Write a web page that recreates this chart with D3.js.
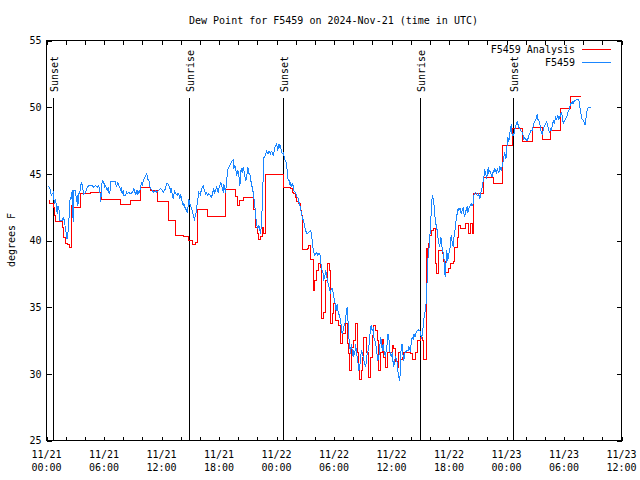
<!DOCTYPE html>
<html><head><meta charset="utf-8">
<script src="https://cdn.jsdelivr.net/npm/d3@7"></script>
<style>
html,body{margin:0;padding:0;background:#fff;}
svg{display:block;}
text{font-family:"DejaVu Sans Mono","Liberation Mono",monospace;font-size:10px;fill:#000;}
</style></head><body>
<svg id="chart" width="640" height="480"></svg>
<script>
const chartTitle = "Dew Point for F5459 on 2024-Nov-21 (time in UTC)";
const yAxisLabel = "degrees F";
const seriesNames = ["F5459 Analysis", "F5459"];
const seriesColors = ["#ff0000", "#1a86ff"];
const yTickValues = [25, 30, 35, 40, 45, 50, 55];
const sunEventLabels = ["Sunset", "Sunrise", "Sunset", "Sunrise", "Sunset"];
const sunEventHours = [0.76, 14.95, 24.76, 39.06, 48.76];

// hours after 2024-11-21 00:00 UTC
const analysisHours = [
0.21,0.35,0.70,0.83,0.90,0.94,1.70,1.81,1.95,2.16,
2.44,2.61,2.85,3.55,4.6,5.74,7.72,8.77,9.81,10.85,
11.55,12.76,13.46,14.33,14.85,15.2,15.55,15.8,16.77,18.68,
19.72,19.9,20.17,20.59,21.63,21.81,21.98,22.16,22.33,22.51,
22.61,22.85,24.70,25.46,25.64,25.81,25.98,26.09,26.33,26.51,
26.61,26.68,27.20,27.37,27.55,27.89,28.00,28.17,28.42,28.59,
28.73,28.94,29.11,29.29,29.57,29.64,29.81,29.98,30.16,30.50,
30.68,30.85,31.20,31.38,31.55,31.65,31.80,32.07,32.24,32.42,
32.59,32.69,32.84,32.94,33.11,33.39,33.63,33.81,33.98,34.16,
34.33,34.51,34.68,34.85,35.03,35.20,35.38,35.55,36.07,36.24,
36.42,36.60,36.77,36.94,37.12,37.29,37.98,38.16,38.51,38.68,
39.03,39.20,39.37,39.65,39.72,39.79,39.89,40.00,40.14,40.42,
40.59,40.70,40.94,41.30,41.46,41.60,41.90,42.20,42.50,42.61,
42.86,42.96,43.20,43.72,44.07,44.24,44.42,44.59,45.64,46.61,
47.55,48.59,49.64,50.68,51.73,52.59,53.64,54.72,55.75];
const analysisDew = [
43.0,42.75,42.5,41.9,41.5,41.4,41.0,40.25,39.8,39.7,
39.5,42.6,42.5,43.55,43.6,43.1,42.7,43.0,44.0,43.75,
42.9,41.5,40.4,40.3,40.0,39.7,39.85,42.3,41.8,43.8,
43.3,42.6,43.0,43.25,42.3,41.0,40.5,40.1,40.3,41.0,
40.5,44.95,44.0,43.9,43.6,43.5,43.25,42.9,42.75,42.25,
41.9,39.3,39.4,39.6,38.55,36.25,37.0,37.75,38.25,38.0,
34.15,34.6,37.0,38.25,37.75,33.75,34.5,35.25,34.0,33.6,
32.25,33.0,33.75,32.25,31.5,30.25,32.0,32.5,33.75,31.6,
30.25,29.6,30.25,31.25,32.7,31.6,29.7,31.25,32.9,33.6,
33.25,32.5,30.25,31.6,32.6,31.25,30.5,31.6,32.1,31.9,
30.9,30.5,31.6,31.1,31.25,31.6,31.5,31.1,31.6,32.5,
32.7,32.5,31.1,39.4,37.4,39.0,39.75,40.4,40.75,40.9,
38.25,37.5,39.25,39.0,38.4,37.6,37.9,38.25,38.4,39.5,
40.25,41.1,40.9,41.25,40.5,41.25,40.5,43.55,44.75,44.3,
47.1,48.4,47.4,48.5,47.6,48.25,49.9,50.8,50.8];

const obsHours = [
0.21,0.35,0.42,0.52,0.59,0.70,0.77,0.83,0.94,1.04,
1.11,1.18,1.29,1.39,1.63,1.74,1.81,1.88,1.95,2.02,
2.09,2.16,2.23,2.33,2.37,2.44,2.50,2.57,2.68,2.78,
2.85,3.03,3.13,3.20,3.27,3.37,3.48,3.55,3.65,3.76,
3.83,3.90,4.07,4.25,4.42,4.59,4.77,4.94,5.11,5.29,
5.46,5.57,5.64,5.74,5.81,5.91,5.98,6.09,6.16,6.26,
6.33,6.44,6.51,6.61,6.68,7.20,7.30,7.44,7.55,7.65,
7.72,7.79,7.90,8.00,8.07,8.24,8.35,8.42,8.59,8.77,
8.94,9.05,9.11,9.21,9.29,9.39,9.46,9.53,9.63,9.74,
9.81,9.91,10.02,10.09,10.16,10.26,10.43,10.50,10.57,10.68,
10.78,10.85,11.03,11.20,11.37,11.48,11.72,11.90,12.07,12.18,
12.42,12.52,12.66,12.76,12.87,12.94,13.04,13.11,13.22,13.28,
13.36,13.46,13.64,13.74,13.81,13.91,13.98,14.16,14.26,14.33,
14.43,14.50,14.61,14.68,14.79,14.85,14.95,15.03,15.20,15.37,
15.44,15.55,15.65,15.72,15.79,15.89,16.00,16.07,16.14,16.25,
16.35,16.42,16.49,16.59,16.70,16.77,16.94,17.11,17.19,17.29,
17.40,17.46,17.53,17.64,17.74,17.81,17.92,17.98,18.09,18.16,
18.23,18.33,18.44,18.50,18.57,18.68,18.78,18.86,18.92,19.03,
19.20,19.38,19.48,19.55,19.62,19.72,19.83,19.90,19.96,20.07,
20.17,20.24,20.31,20.42,20.53,20.59,20.66,20.77,20.87,20.94,
21.01,21.11,21.22,21.29,21.39,21.46,21.57,21.63,21.74,21.81,
21.91,22.05,22.16,22.26,22.33,22.40,22.51,22.61,22.68,22.75,
22.85,22.96,23.03,23.10,23.20,23.30,23.37,23.44,23.55,23.66,
23.72,23.79,23.90,24.00,24.07,24.14,24.24,24.35,24.42,24.49,
24.59,24.70,24.77,24.83,24.94,25.04,25.12,25.22,25.29,25.39,
25.46,25.53,25.64,25.74,25.81,25.98,26.16,26.23,26.33,26.44,
26.51,26.68,26.85,27.03,27.20,27.37,27.55,27.62,27.72,27.79,
27.89,28.00,28.07,28.17,28.31,28.42,28.52,28.59,28.66,28.77,
28.87,28.94,29.04,29.11,29.22,29.29,29.40,29.46,29.57,29.64,
29.71,29.81,29.92,29.98,30.09,30.16,30.23,30.33,30.40,30.50,
30.61,30.68,30.78,30.85,30.96,31.02,31.13,31.20,31.31,31.38,
31.44,31.55,31.65,31.72,31.80,31.90,32.00,32.07,32.17,32.24,
32.35,32.42,32.52,32.59,32.69,32.77,32.87,32.94,33.05,33.11,
33.22,33.29,33.39,33.46,33.57,33.63,33.74,33.81,33.91,33.98,
34.09,34.16,34.26,34.33,34.43,34.51,34.57,34.68,34.78,34.85,
34.96,35.03,35.13,35.20,35.38,35.48,35.55,35.62,35.72,35.82,
35.90,36.00,36.07,36.18,36.24,36.31,36.42,36.52,36.60,36.66,
36.77,36.87,36.94,37.01,37.12,37.22,37.29,37.36,37.46,37.57,
37.74,37.81,37.98,38.05,38.16,38.26,38.33,38.44,38.51,38.61,
38.68,38.86,38.96,39.03,39.13,39.20,39.30,39.37,39.44,39.55,
39.65,39.72,39.79,39.89,40.00,40.07,40.14,40.21,40.28,40.35,
40.42,40.49,40.56,40.70,40.77,40.84,40.94,41.04,41.11,41.19,
41.29,41.40,41.46,41.53,41.60,41.67,41.74,41.81,41.88,41.98,
42.09,42.16,42.23,42.33,42.44,42.51,42.61,42.68,42.78,42.86,
42.96,43.03,43.13,43.20,43.27,43.37,43.48,43.55,43.62,43.72,
43.83,43.90,43.97,44.07,44.17,44.24,44.31,44.42,44.52,44.59,
44.66,44.77,44.87,44.94,45.05,45.11,45.22,45.29,45.36,45.46,
45.57,45.64,45.71,45.81,45.92,45.99,46.09,46.16,46.26,46.33,
46.44,46.51,46.61,46.68,46.78,46.85,46.96,47.03,47.09,47.20,
47.30,47.37,47.44,47.55,47.65,47.72,47.79,47.86,47.93,48.00,
48.07,48.14,48.21,48.28,48.35,48.42,48.49,48.59,48.70,48.77,
48.83,48.94,49.04,49.12,49.18,49.29,49.39,49.46,49.64,49.74,
49.81,49.91,49.98,50.16,50.23,50.33,50.43,50.51,50.68,50.79,
50.85,50.92,51.03,51.13,51.20,51.27,51.37,51.48,51.55,51.62,
51.73,51.83,51.90,51.97,52.07,52.18,52.25,52.31,52.42,52.52,
52.59,52.66,52.77,52.87,52.94,53.01,53.11,53.22,53.29,53.36,
53.46,53.57,53.64,53.71,53.81,53.92,53.98,54.05,54.16,54.26,
54.33,54.40,54.51,54.61,54.68,54.75,54.86,54.96,55.03,55.13,
55.20,55.30,55.48,55.55,55.65,55.72,55.82,55.89,56.00,56.06,
56.13,56.21,56.27,56.35,56.42,56.49,56.59,56.77];
const obsDew = [
44.1,43.9,43.6,43.4,43.5,43.6,43.1,42.75,43.1,42.6,
42.0,42.6,42.4,41.5,41.5,41.75,41.6,41.5,41.0,40.75,
40.25,40.1,40.5,41.5,41.9,43.0,43.25,43.1,43.75,41.4,
43.75,43.75,42.9,43.4,42.6,43.5,43.6,44.1,44.4,44.0,
43.75,43.5,43.6,44.0,44.1,44.1,44.1,44.0,44.1,44.0,
44.1,43.75,42.9,43.6,44.5,44.25,44.4,44.0,44.1,43.9,
43.75,44.0,43.6,43.5,44.4,44.4,44.0,44.4,44.1,44.0,
43.75,44.0,43.5,43.75,43.4,43.4,43.6,43.5,43.6,43.5,
43.6,43.75,43.9,43.6,43.5,43.75,43.4,43.75,43.55,43.75,
43.9,44.4,44.1,44.5,44.6,44.75,45.0,44.9,44.6,44.5,
44.1,43.9,43.75,43.6,43.75,43.6,43.75,43.9,43.75,43.6,
43.9,44.25,44.3,44.1,44.0,43.6,43.9,43.5,43.1,43.4,
43.75,43.5,43.4,43.55,43.5,43.1,43.5,42.9,42.6,42.75,
42.5,42.4,42.25,42.1,42.6,43.1,42.75,42.6,42.25,41.75,
41.6,41.9,42.25,42.75,43.1,43.6,43.5,43.4,43.75,44.0,
44.1,43.9,43.75,43.5,43.6,43.4,43.5,43.4,43.25,43.4,
43.75,43.9,43.6,43.75,44.0,43.9,43.6,43.9,44.1,44.4,
44.25,44.0,43.6,44.25,44.0,43.6,44.25,45.0,45.3,45.5,
45.75,46.0,46.05,45.4,45.6,45.5,44.9,45.0,45.25,44.9,
44.1,44.6,45.4,45.1,45.5,45.25,45.0,44.5,44.6,45.1,
45.5,45.0,45.0,44.6,44.25,44.0,43.6,43.25,42.6,42.0,
41.25,40.9,41.1,40.75,40.5,41.0,42.5,44.75,46.2,46.3,
46.4,46.7,46.6,46.5,46.7,46.6,46.5,46.7,46.6,46.4,
46.5,46.9,47.1,47.25,47.0,46.75,47.25,47.0,47.1,46.75,
46.5,46.6,46.4,46.1,46.0,45.75,45.25,44.5,44.6,44.25,
44.4,44.0,44.25,44.1,43.75,43.6,43.25,43.25,42.9,42.6,
42.4,41.75,41.4,40.75,40.5,40.6,40.75,40.6,40.0,39.5,
39.1,38.9,39.0,39.1,38.9,39.0,39.0,38.6,38.1,37.75,
37.5,37.1,37.25,37.75,37.5,37.1,36.75,36.6,36.25,36.0,
36.4,36.4,36.1,35.75,35.4,35.0,34.75,35.25,34.75,34.5,
34.25,34.0,33.5,33.0,33.25,33.5,33.75,34.1,34.75,35.0,
34.25,32.75,32.0,31.5,32.25,31.75,31.25,31.75,31.4,32.25,
31.6,31.25,30.75,30.25,30.5,31.25,31.75,31.6,31.25,31.0,
30.75,30.5,31.0,31.5,31.75,32.0,32.75,33.5,33.6,33.25,
33.4,32.75,32.5,32.25,32.0,31.25,31.0,31.25,32.0,32.75,
32.5,31.75,32.25,31.75,31.25,32.0,32.25,33.0,32.75,31.75,
31.5,31.25,31.6,30.75,30.5,30.9,31.25,31.1,30.75,30.25,
29.75,29.5,30.75,32.0,32.25,31.25,31.0,31.5,31.6,31.75,
31.75,32.0,31.75,32.25,32.75,32.6,33.0,32.75,33.0,33.1,
33.25,33.3,33.25,33.0,32.75,32.9,33.5,34.0,34.5,34.75,
35.75,37.1,38.5,39.25,40.25,41.0,42.1,43.0,43.4,43.1,
42.75,42.5,41.5,41.0,40.75,40.25,39.75,39.5,40.25,40.1,
39.4,39.1,38.9,38.0,37.25,38.0,39.25,39.0,38.5,39.0,
39.25,40.0,40.4,39.9,39.5,40.25,40.6,41.25,41.6,42.1,
42.4,42.25,42.4,42.4,42.0,42.25,42.5,42.1,41.75,42.1,
42.4,42.5,42.1,42.4,42.55,42.6,42.75,42.6,42.75,43.4,
43.5,43.6,43.5,43.4,43.4,43.5,43.1,43.4,43.75,44.0,
44.5,44.75,45.25,45.1,44.75,44.9,45.5,45.1,45.25,45.1,
44.9,44.75,45.25,45.1,45.4,45.25,45.1,45.4,45.25,45.1,
45.5,45.4,45.25,45.6,45.9,46.25,46.6,46.4,46.1,46.5,
47.25,47.75,47.4,47.6,48.0,48.5,48.6,47.9,48.0,47.9,
48.25,48.5,48.75,48.95,48.75,48.5,48.4,48.25,48.1,47.9,
47.6,47.75,47.6,47.5,47.6,47.9,48.0,48.25,48.25,48.6,
48.75,48.9,49.0,49.25,49.5,49.1,49.0,48.75,48.5,48.1,
48.0,48.25,48.5,48.6,48.75,48.9,48.75,48.6,48.25,48.1,
48.4,48.25,48.6,48.9,49.0,48.75,49.25,49.1,49.25,49.4,
49.1,49.25,49.5,49.6,49.4,48.75,48.9,49.0,49.1,49.25,
49.4,49.6,49.75,50.0,50.25,50.3,50.4,50.25,50.4,50.5,
50.5,50.6,50.6,50.5,50.1,49.6,49.4,49.1,49.0,48.9,
48.8,48.65,49.0,49.5,49.75,49.9,50.0,50.0];

const startMs = Date.UTC(2024, 10, 21, 0, 0);
const toDate = h => new Date(startMs + h * 3600000);

const analysis = analysisHours.map((h, i) => ({t: toDate(h), v: analysisDew[i]}));
const obs = obsHours.map((h, i) => ({t: toDate(h), v: obsDew[i]}));

const svg = d3.select("#chart");
const x = d3.scaleUtc().domain([toDate(0), toDate(60)]).range([46, 621]);
const y = d3.scaleLinear().domain([25, 55]).range([440, 40]);

const g = svg.append("g").attr("transform", "translate(0.5,0.5)");

function styleAxis(sel) {
  sel.select(".domain").remove();
  sel.selectAll(".tick line").attr("stroke", "#000").attr("shape-rendering", "crispEdges");
  sel.selectAll("text").attr("font-family", null).attr("font-size", null).attr("fill", "#000");
}

const every2h = d3.utcHour.every(2).range(toDate(0), toDate(60.01));
g.append("g").attr("transform", "translate(0,440)")
  .call(d3.axisBottom(x).tickValues(every2h).tickSize(-4).tickFormat(""))
  .call(styleAxis);
g.append("g").attr("transform", "translate(0,40)")
  .call(d3.axisTop(x).tickValues(every2h).tickSize(-4).tickFormat(""))
  .call(styleAxis);
g.append("g").attr("transform", "translate(46,0)")
  .call(d3.axisLeft(y).tickValues(yTickValues).tickSize(-5).tickPadding(5))
  .call(styleAxis);
g.append("g").attr("transform", "translate(621,0)")
  .call(d3.axisRight(y).tickValues(yTickValues).tickSize(-5).tickFormat(""))
  .call(styleAxis);

// x labels every 6 hours, two lines
const every6h = d3.utcHour.every(6).range(toDate(0), toDate(60.01));
const fDay = d3.utcFormat("%m/%d"), fTime = d3.utcFormat("%H:%M");
const xl = svg.append("g").selectAll("text").data(every6h).join("text")
  .attr("text-anchor", "middle");
xl.append("tspan").attr("x", d => x(d) + 0.5).attr("y", 458).text(d => fDay(d));
xl.append("tspan").attr("x", d => x(d) + 0.5).attr("y", 471).text(d => fTime(d));

// sun events
sunEventHours.forEach((h, i) => {
  const xp = Math.round(x(toDate(h)));
  g.append("line").attr("x1", xp).attr("x2", xp).attr("y1", 97).attr("y2", 440)
    .attr("stroke", "#000").attr("shape-rendering", "crispEdges");
  svg.append("text").attr("transform", `translate(${xp + 0.5},92) rotate(-90)`)
    .attr("dy", "0.45em").attr("text-anchor", "start").text(sunEventLabels[i]);
});

// series
const lineStep = d3.line().x(d => x(d.t)).y(d => y(d.v)).curve(d3.curveStepAfter);
const lineLin = d3.line().x(d => x(d.t)).y(d => y(d.v));
g.append("path").datum(analysis).attr("d", lineStep)
  .attr("fill", "none").attr("stroke", seriesColors[0]).attr("stroke-width", 1)
  .attr("shape-rendering", "crispEdges");
g.append("path").datum(obs).attr("d", lineLin)
  .attr("fill", "none").attr("stroke", seriesColors[1]).attr("stroke-width", 1)
  .attr("shape-rendering", "crispEdges");

// frame
g.append("rect").attr("x", 46).attr("y", 40).attr("width", 575).attr("height", 400)
  .attr("fill", "none").attr("stroke", "#000").attr("shape-rendering", "crispEdges");

// title and axis label
svg.append("text").attr("x", 333.5).attr("y", 24).attr("text-anchor", "middle").text(chartTitle);
svg.append("text").attr("transform", "translate(11,240) rotate(-90)")
  .attr("text-anchor", "middle").attr("dy", "0.35em").text(yAxisLabel);

// legend
const legendY = [49, 62];
seriesNames.forEach((name, i) => {
  svg.append("text").attr("x", 575).attr("y", legendY[i] + 4).attr("text-anchor", "end").text(name);
  g.append("line").attr("x1", 581).attr("x2", 610).attr("y1", legendY[i]).attr("y2", legendY[i])
    .attr("stroke", seriesColors[i]).attr("shape-rendering", "crispEdges");
});
</script>
</body></html>
